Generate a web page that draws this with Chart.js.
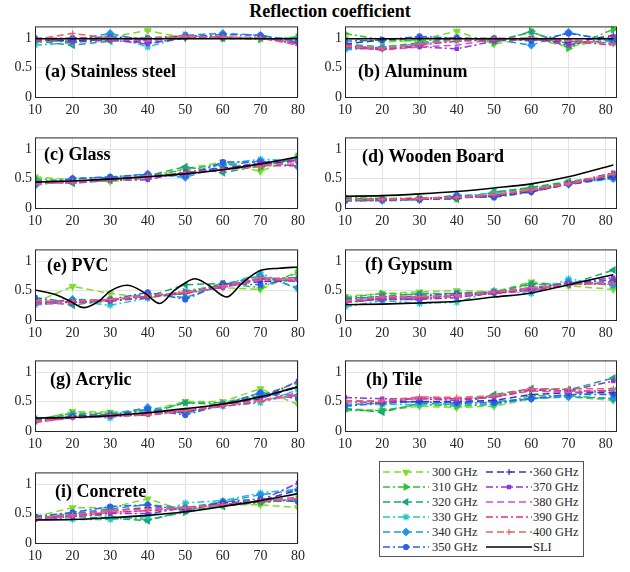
<!DOCTYPE html>
<html>
<head>
<meta charset="utf-8">
<script src="https://cdn.jsdelivr.net/npm/chart.js@4/dist/chart.umd.min.js"></script>
<style>
  body { margin: 0; background: #fff; }
  #wrap { position: relative; width: 630px; height: 572px; font-family: "Liberation Serif", "Times New Roman", serif; color: #000; }
  #title { position: absolute; left: 0; width: 660px; top: 1px; text-align: center; font-weight: bold; font-size: 18px; }
  #wrap canvas.panel { position: absolute; }
  #legend { position: absolute; left: 379px; top: 461px; width: 203px; height: 94px; border: 1px solid #555; background: #fff; }
  #legend span { position: absolute; font-size: 12.5px; line-height: 14px; white-space: nowrap; color: #262626; }
</style>
</head>
<body>
<div id="wrap">
  <div id="title">Reflection coefficient</div>
  <div id="legend"></div>
</div>
<script>
// ---- data ----
const angles  = [10, 20, 30, 40, 50, 60, 70, 80];
const anglesR = [10, 20, 30, 40, 50, 60, 70, 82];
const xTicks = [10, 20, 30, 40, 50, 60, 70, 80];
const yTicks = [0, 0.5, 1];
const freqLabels = ['300 GHz', '310 GHz', '320 GHz', '330 GHz', '340 GHz', '350 GHz',
                    '360 GHz', '370 GHz', '380 GHz', '390 GHz', '400 GHz'];

// rows: 300 ... 400 GHz
const steel = [
  [0.92, 0.98, 1.02, 1.13, 1.00, 1.00, 1.00, 1.00],
  [0.97, 0.95, 1.00, 1.00, 1.05, 1.00, 0.98, 1.02],
  [0.95, 0.88, 0.95, 0.95, 1.04, 1.00, 1.00, 1.00],
  [0.88, 0.92, 1.05, 0.85, 1.03, 1.02, 1.00, 0.95],
  [0.95, 0.97, 1.08, 0.95, 1.05, 1.08, 1.05, 0.95],
  [1.00, 1.00, 1.02, 1.00, 1.03, 1.06, 1.05, 0.93],
  [0.97, 0.95, 0.98, 0.92, 1.00, 1.00, 1.00, 0.92],
  [0.98, 0.93, 0.97, 0.90, 1.02, 1.00, 1.02, 0.90],
  [0.97, 1.00, 0.98, 0.95, 1.05, 1.00, 1.00, 0.92],
  [0.95, 1.00, 1.00, 0.97, 1.03, 1.02, 1.00, 0.90],
  [0.98, 1.08, 1.00, 1.00, 1.03, 1.02, 1.00, 0.88]
];
const steelSLI = [0.99, 0.99, 0.99, 0.99, 0.99, 0.99, 0.99, 0.99];

const aluminum = [
  [1.00, 0.93, 0.97, 1.12, 0.90, 1.00, 0.85, 1.00],
  [1.08, 0.97, 0.95, 1.00, 0.92, 1.12, 0.83, 1.15],
  [0.90, 0.85, 0.92, 1.00, 0.95, 1.10, 0.90, 0.97],
  [0.80, 0.85, 0.90, 0.95, 0.98, 1.00, 0.95, 0.92],
  [0.82, 0.83, 0.88, 1.00, 0.98, 0.88, 1.10, 0.93],
  [0.95, 0.97, 1.03, 1.00, 1.00, 0.95, 1.08, 0.97],
  [0.90, 0.97, 1.00, 1.00, 0.97, 0.98, 0.92, 1.05],
  [0.88, 0.82, 0.85, 0.82, 0.95, 1.00, 0.88, 1.03],
  [0.85, 0.80, 0.85, 0.88, 0.98, 1.00, 0.97, 0.90],
  [0.85, 0.80, 0.88, 0.95, 0.97, 0.98, 0.95, 0.88],
  [0.87, 0.83, 0.90, 0.97, 1.00, 1.00, 0.98, 0.90]
];
const aluminumSLI = [0.99, 0.99, 0.99, 0.99, 0.99, 0.99, 0.99, 0.99];

const glass = [
  [0.53, 0.48, 0.45, 0.50, 0.67, 0.78, 0.62, 0.88],
  [0.50, 0.45, 0.48, 0.55, 0.65, 0.75, 0.68, 0.88],
  [0.48, 0.42, 0.47, 0.55, 0.70, 0.60, 0.72, 0.85],
  [0.40, 0.45, 0.50, 0.55, 0.55, 0.75, 0.83, 0.80],
  [0.38, 0.50, 0.52, 0.58, 0.52, 0.72, 0.80, 0.70],
  [0.42, 0.50, 0.53, 0.57, 0.55, 0.78, 0.78, 0.80],
  [0.42, 0.45, 0.50, 0.52, 0.60, 0.68, 0.75, 0.80],
  [0.43, 0.45, 0.47, 0.48, 0.62, 0.65, 0.78, 0.82],
  [0.42, 0.43, 0.48, 0.52, 0.60, 0.65, 0.72, 0.75],
  [0.44, 0.42, 0.48, 0.52, 0.58, 0.66, 0.72, 0.72],
  [0.40, 0.45, 0.48, 0.55, 0.58, 0.65, 0.70, 0.80]
];
const glassSLI = [0.44, 0.46, 0.49, 0.53, 0.58, 0.65, 0.75, 0.87];

const wood = [
  [0.17, 0.15, 0.16, 0.17, 0.25, 0.33, 0.43, 0.55],
  [0.18, 0.16, 0.17, 0.16, 0.27, 0.33, 0.43, 0.52],
  [0.16, 0.15, 0.15, 0.15, 0.27, 0.35, 0.45, 0.55],
  [0.12, 0.12, 0.14, 0.20, 0.25, 0.30, 0.42, 0.50],
  [0.12, 0.13, 0.14, 0.22, 0.20, 0.28, 0.40, 0.50],
  [0.13, 0.14, 0.15, 0.20, 0.18, 0.27, 0.42, 0.52],
  [0.13, 0.14, 0.15, 0.17, 0.20, 0.28, 0.40, 0.53],
  [0.14, 0.15, 0.16, 0.18, 0.21, 0.30, 0.42, 0.60],
  [0.14, 0.14, 0.16, 0.18, 0.22, 0.30, 0.40, 0.58],
  [0.13, 0.14, 0.15, 0.17, 0.22, 0.29, 0.40, 0.57],
  [0.14, 0.15, 0.16, 0.18, 0.23, 0.31, 0.42, 0.58]
];
const woodSLI = [0.20, 0.21, 0.24, 0.28, 0.34, 0.41, 0.53, 0.73];

const pvc = [
  [0.30, 0.57, 0.45, 0.38, 0.45, 0.55, 0.52, 0.80],
  [0.33, 0.30, 0.32, 0.40, 0.47, 0.62, 0.55, 0.82],
  [0.35, 0.25, 0.35, 0.40, 0.60, 0.62, 0.70, 0.68],
  [0.25, 0.32, 0.25, 0.37, 0.50, 0.58, 0.80, 0.52],
  [0.28, 0.35, 0.33, 0.45, 0.38, 0.60, 0.75, 0.55],
  [0.38, 0.30, 0.35, 0.47, 0.35, 0.62, 0.60, 0.70],
  [0.30, 0.33, 0.33, 0.42, 0.45, 0.60, 0.65, 0.68],
  [0.28, 0.30, 0.32, 0.38, 0.48, 0.55, 0.70, 0.72],
  [0.27, 0.28, 0.35, 0.40, 0.47, 0.55, 0.68, 0.68],
  [0.30, 0.30, 0.33, 0.40, 0.45, 0.58, 0.70, 0.65],
  [0.32, 0.32, 0.35, 0.42, 0.47, 0.58, 0.72, 0.68]
];
const pvcSLIx = [10, 15, 19, 23, 27, 30, 34.5, 39, 43.2, 47, 50, 52.5, 56, 61, 65, 70, 75, 80];
const pvcSLI  = [0.51, 0.44, 0.33, 0.21, 0.32, 0.49, 0.59, 0.47, 0.28, 0.50, 0.63, 0.70, 0.60, 0.39, 0.62, 0.84, 0.88, 0.90];

const gypsum = [
  [0.40, 0.45, 0.48, 0.50, 0.48, 0.65, 0.58, 0.52],
  [0.38, 0.45, 0.43, 0.45, 0.48, 0.60, 0.62, 0.60],
  [0.37, 0.40, 0.45, 0.45, 0.47, 0.62, 0.60, 0.85],
  [0.22, 0.33, 0.28, 0.30, 0.50, 0.45, 0.70, 0.58],
  [0.30, 0.35, 0.35, 0.42, 0.47, 0.50, 0.65, 0.60],
  [0.35, 0.40, 0.40, 0.45, 0.47, 0.55, 0.62, 0.68],
  [0.32, 0.37, 0.38, 0.40, 0.45, 0.52, 0.60, 0.65],
  [0.30, 0.35, 0.35, 0.38, 0.47, 0.53, 0.62, 0.72],
  [0.33, 0.38, 0.38, 0.40, 0.47, 0.52, 0.60, 0.65],
  [0.30, 0.37, 0.37, 0.42, 0.45, 0.50, 0.60, 0.62],
  [0.32, 0.40, 0.40, 0.42, 0.48, 0.55, 0.60, 0.62]
];
const gypsumSLI = [0.26, 0.27, 0.29, 0.32, 0.39, 0.46, 0.60, 0.77];

const acrylic = [
  [0.18, 0.33, 0.32, 0.35, 0.50, 0.50, 0.72, 0.45],
  [0.20, 0.30, 0.30, 0.32, 0.48, 0.48, 0.62, 0.75],
  [0.20, 0.28, 0.28, 0.30, 0.48, 0.45, 0.60, 0.82],
  [0.15, 0.27, 0.22, 0.35, 0.32, 0.42, 0.48, 0.70],
  [0.17, 0.25, 0.28, 0.40, 0.30, 0.45, 0.65, 0.60],
  [0.17, 0.25, 0.27, 0.37, 0.27, 0.45, 0.65, 0.55],
  [0.18, 0.25, 0.27, 0.30, 0.33, 0.43, 0.55, 0.75],
  [0.17, 0.23, 0.25, 0.28, 0.35, 0.45, 0.55, 0.85],
  [0.15, 0.22, 0.25, 0.27, 0.35, 0.43, 0.52, 0.65],
  [0.15, 0.23, 0.25, 0.27, 0.33, 0.42, 0.50, 0.62],
  [0.17, 0.23, 0.27, 0.28, 0.35, 0.43, 0.52, 0.60]
];
const acrylicSLI = [0.22, 0.23, 0.26, 0.31, 0.38, 0.46, 0.58, 0.75];

const tile = [
  [0.38, 0.35, 0.42, 0.40, 0.42, 0.55, 0.58, 0.52],
  [0.35, 0.35, 0.45, 0.42, 0.45, 0.60, 0.60, 0.55],
  [0.38, 0.32, 0.47, 0.45, 0.62, 0.72, 0.70, 0.90],
  [0.45, 0.45, 0.45, 0.45, 0.45, 0.55, 0.60, 0.70],
  [0.45, 0.47, 0.50, 0.48, 0.50, 0.55, 0.58, 0.55],
  [0.42, 0.48, 0.50, 0.47, 0.48, 0.55, 0.62, 0.62],
  [0.50, 0.50, 0.50, 0.50, 0.52, 0.62, 0.65, 0.65],
  [0.57, 0.55, 0.55, 0.52, 0.58, 0.70, 0.68, 0.85],
  [0.52, 0.50, 0.55, 0.55, 0.58, 0.68, 0.65, 0.70],
  [0.50, 0.48, 0.57, 0.55, 0.57, 0.70, 0.68, 0.68],
  [0.50, 0.52, 0.58, 0.57, 0.60, 0.72, 0.72, 0.72]
];

const concrete = [
  [0.45, 0.60, 0.60, 0.75, 0.55, 0.65, 0.65, 0.60],
  [0.45, 0.50, 0.45, 0.40, 0.52, 0.65, 0.68, 0.75],
  [0.42, 0.45, 0.42, 0.38, 0.55, 0.62, 0.70, 0.72],
  [0.45, 0.40, 0.40, 0.45, 0.68, 0.72, 0.85, 0.92],
  [0.42, 0.50, 0.58, 0.65, 0.60, 0.70, 0.82, 0.90],
  [0.45, 0.52, 0.62, 0.65, 0.55, 0.70, 0.75, 0.70],
  [0.42, 0.48, 0.55, 0.60, 0.58, 0.68, 0.72, 0.90],
  [0.40, 0.45, 0.50, 0.50, 0.60, 0.65, 0.72, 1.02],
  [0.40, 0.45, 0.52, 0.55, 0.60, 0.65, 0.72, 0.78],
  [0.42, 0.47, 0.52, 0.55, 0.58, 0.65, 0.70, 0.75],
  [0.42, 0.48, 0.55, 0.58, 0.60, 0.65, 0.72, 0.75]
];
const concreteSLI = [0.39, 0.40, 0.43, 0.47, 0.53, 0.62, 0.72, 0.84];

// ---- styles ----
const colors = ['#80dc2c', '#2ec42e', '#1aa57a', '#1ec8c8', '#1e96e6', '#2a64e6',
                '#3434c0', '#8a38d4', '#d050d8', '#e0308c', '#e86464'];
const DASH = [7, 4], DASHDOT = [7, 3, 2, 3];
const dashes = [DASH, DASHDOT, DASH, DASHDOT, DASH, DASHDOT, DASH, DASHDOT, DASH, DASHDOT, DASH];
const markers = [
  { style: 'triangle', rot: 180, r: 3.5 },
  { style: 'triangle', rot: 90, r: 3.5 },
  { style: 'triangle', rot: 270, r: 3.5 },
  { style: 'star', rot: 0, r: 3.5 },
  { style: 'rectRot', rot: 0, r: 3.5 },
  { style: 'circle', rot: 0, r: 2.5 },
  { style: 'cross', rot: 0, r: 3 },
  { style: 'rect', rot: 0, r: 2.2 },
  { style: 'circle', rot: 0, r: 0 },
  { style: 'circle', rot: 0, r: 0 },
  { style: 'cross', rot: 0, r: 3 }
];
const FONT = '"Liberation Serif", "Times New Roman", serif';
const rowBottom = [97, 208, 320, 431, 543];
const PLOT_H = 76, PAD_TOP = 6, XAX_H = 22;

const panels = [
  { label: '(a) Stainless steel', vals: steel,    sli: steelSLI,    col: 0, row: 0, lx: 10, ly: 51 },
  { label: '(b) Aluminum',        vals: aluminum, sli: aluminumSLI, col: 1, row: 0, lx: 13, ly: 51 },
  { label: '(c) Glass',           vals: glass,    sli: glassSLI,    col: 0, row: 1, lx: 9,  ly: 23 },
  { label: '(d) Wooden Board',    vals: wood,     sli: woodSLI,     col: 1, row: 1, lx: 17, ly: 25 },
  { label: '(e) PVC',             vals: pvc,      sli: pvcSLI, sliX: pvcSLIx, col: 0, row: 2, lx: 12, ly: 22 },
  { label: '(f) Gypsum',          vals: gypsum,   sli: gypsumSLI,   col: 1, row: 2, lx: 20, ly: 21 },
  { label: '(g) Acrylic',         vals: acrylic,  sli: acrylicSLI,  col: 0, row: 3, lx: 15, ly: 25 },
  { label: '(h) Tile',            vals: tile,     sli: null,        col: 1, row: 3, lx: 21, ly: 25 },
  { label: '(i) Concrete',        vals: concrete, sli: concreteSLI, col: 0, row: 4, lx: 20, ly: 25 }
];

// box around plot area + panel caption
const framePlugin = {
  id: 'frame',
  afterDraw(chart) {
    const { ctx, chartArea: a } = chart;
    const o = chart.options.plugins.frame;
    ctx.save();
    ctx.strokeStyle = '#262626';
    ctx.lineWidth = 1;
    ctx.strokeRect(a.left + 0.5, a.top + 0.5, a.right - a.left - 1, a.bottom - a.top);
    ctx.fillStyle = '#000';
    ctx.font = 'bold 18px ' + FONT;
    ctx.textBaseline = 'alphabetic';
    ctx.fillText(o.label, a.left + o.lx, a.top + o.ly);
    ctx.restore();
  }
};

const wrap = document.getElementById('wrap');

function makePanel(p) {
  const xs = p.col ? anglesR : angles;
  const canvas = document.createElement('canvas');
  canvas.className = 'panel';
  canvas.width = p.col ? 320 : 310;
  canvas.height = PAD_TOP + PLOT_H + XAX_H;
  canvas.style.left = (p.col ? 310 : 0) + 'px';
  canvas.style.top = (rowBottom[p.row] - PLOT_H - PAD_TOP) + 'px';
  wrap.insertBefore(canvas, document.getElementById('legend'));

  const datasets = p.vals.map((v, i) => ({
    label: freqLabels[i],
    data: xs.map((x, k) => ({ x, y: v[k] })),
    borderColor: colors[i],
    backgroundColor: colors[i],
    borderWidth: 1.5,
    borderDash: dashes[i],
    pointStyle: markers[i].style,
    pointRotation: markers[i].rot,
    pointRadius: markers[i].r,
    pointBorderWidth: 1.2,
    order: 20 - i
  }));
  if (p.sli) {
    datasets.push({
      label: 'SLI',
      data: (p.sliX || xs).map((x, k) => ({ x, y: p.sli[k] })),
      borderColor: '#000',
      borderWidth: 1.6,
      pointRadius: 0,
      cubicInterpolationMode: 'monotone',
      order: 0
    });
  }

  const tickFont = { family: FONT, size: 14 };
  return new Chart(canvas, {
    type: 'line',
    data: { datasets },
    options: {
      responsive: false,
      animation: false,
      events: [],
      devicePixelRatio: 1,
      layout: { padding: { top: PAD_TOP, right: p.col ? 13 : 8, left: 0, bottom: 0 } },
      plugins: {
        legend: { display: false },
        tooltip: { enabled: false },
        frame: { label: p.label, lx: p.lx, ly: p.ly }
      },
      scales: {
        x: {
          type: 'linear',
          min: 10,
          max: p.col ? 83 : 80,
          afterBuildTicks: s => { s.ticks = xTicks.map(v => ({ value: v })); },
          afterFit: s => { s.height = XAX_H; },
          grid: { color: '#e4e4e4', drawTicks: false },
          border: { display: false },
          ticks: { padding: 5, color: '#262626', font: tickFont, maxRotation: 0, autoSkip: false }
        },
        y: {
          min: 0,
          max: 1.2,
          afterBuildTicks: s => { s.ticks = yTicks.map(v => ({ value: v })); },
          afterFit: s => { s.width = 35; },
          grid: { color: '#e4e4e4', drawTicks: false },
          border: { display: false },
          ticks: { padding: 3, color: '#262626', font: tickFont, callback: v => String(v) }
        }
      }
    },
    plugins: [framePlugin]
  });
}

panels.forEach(makePanel);

// ---- legend (line sample + marker, like the MATLAB legend) ----
const legend = document.getElementById('legend');
const legendItems = freqLabels.map((t, i) => ({ t, i })).concat([{ t: 'SLI', i: -1 }]);
legendItems.forEach((it, j) => {
  const col = j < 6 ? 0 : 1, row = j % 6;
  const top = 4 + row * 15;
  const c = document.createElement('canvas');
  c.width = 46; c.height = 12;
  c.style.cssText = 'position:absolute;left:' + (col ? 106 : 3) + 'px;top:' + top + 'px';
  const ctx = c.getContext('2d');
  const color = it.i < 0 ? '#000' : colors[it.i];
  ctx.strokeStyle = color;
  ctx.fillStyle = color;
  ctx.lineWidth = it.i < 0 ? 1.6 : 1.5;
  ctx.setLineDash(it.i < 0 ? [] : dashes[it.i]);
  ctx.beginPath();
  ctx.moveTo(0, 6); ctx.lineTo(46, 6);
  ctx.stroke();
  ctx.setLineDash([]);
  if (it.i >= 0 && markers[it.i].r > 0 && Chart.helpers && Chart.helpers.drawPoint) {
    ctx.lineWidth = 1.2;
    Chart.helpers.drawPoint(ctx, {
      pointStyle: markers[it.i].style,
      rotation: markers[it.i].rot,
      radius: markers[it.i].r,
      borderWidth: 1.2
    }, 23, 6);
  }
  legend.appendChild(c);
  const s = document.createElement('span');
  s.textContent = it.t;
  s.style.left = (col ? 153 : 52) + 'px';
  s.style.top = (top - 1) + 'px';
  legend.appendChild(s);
});
</script>
</body>
</html>
